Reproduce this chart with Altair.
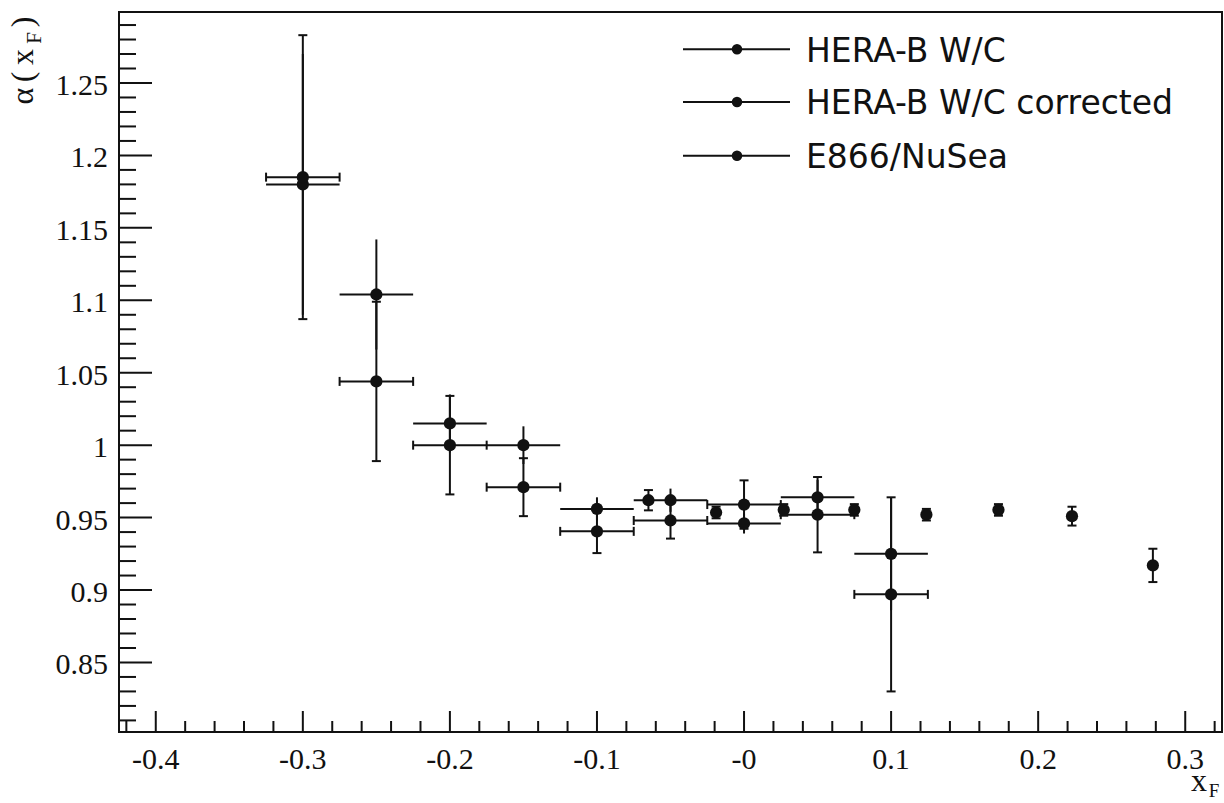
import altair as alt
import pandas as pd

# ---------------- data ----------------
hera_x = [-0.30, -0.25, -0.20, -0.15, -0.10, -0.05, 0.00, 0.05, 0.10]
hera_xerr = [0.025, 0.025, 0.025, 0.025, 0.025, 0.025, 0.025, 0.025, 0.025]

hera_y = [1.180, 1.104, 1.015, 1.000, 0.956, 0.962, 0.946, 0.964, 0.925]
hera_err = [0.090, 0.038, 0.020, 0.013, 0.008, 0.008, 0.007, 0.012, 0.039]

corr_y = [1.185, 1.044, 1.000, 0.971, 0.9405, 0.948, 0.959, 0.952, 0.897]
corr_err = [0.098, 0.055, 0.034, 0.020, 0.015, 0.0125, 0.0167, 0.026, 0.067]

e866_x = [-0.065, -0.019, 0.027, 0.075, 0.124, 0.173, 0.223, 0.278]
e866_y = [0.962, 0.9535, 0.9553, 0.9553, 0.952, 0.9553, 0.951, 0.917]
e866_err = [0.007, 0.004, 0.004, 0.004, 0.004, 0.004, 0.0065, 0.0115]

series_names = ["HERA-B W/C", "HERA-B W/C corrected", "E866/NuSea"]

x_major = [-0.4, -0.3, -0.2, -0.1, 0.0, 0.1, 0.2, 0.3]
x_labels = ["-0.4", "-0.3", "-0.2", "-0.1", "-0", "0.1", "0.2", "0.3"]
y_major = [0.85, 0.90, 0.95, 1.00, 1.05, 1.10, 1.15, 1.20, 1.25]
y_labels = ["0.85", "0.9", "0.95", "1", "1.05", "1.1", "1.15", "1.2", "1.25"]
x_minor = [round(-0.42 + 0.02 * i, 2) for i in range(38)]
x_minor = [v for v in x_minor if abs(round(v * 10) - v * 10) > 1e-6]
y_minor = [round(0.81 + 0.01 * i, 2) for i in range(49)]
y_minor = [v for v in y_minor if abs(round(v * 20) - v * 20) > 1e-6]

# ---------------- layout ----------------
W, H = 1103, 720
INK = "#111111"
SERIF = "Liberation Serif"
SANS = "DejaVu Sans"

xs = alt.Scale(domain=[-0.425, 0.325], nice=False, zero=False)
ys = alt.Scale(domain=[0.802, 1.299], nice=False, zero=False)

# ---------------- tables ----------------
rows = []
for x, y, e, xe in zip(hera_x, hera_y, hera_err, hera_xerr):
    rows.append(dict(series=series_names[0], x=x, y=y, lo=y - e, hi=y + e, xlo=x - xe, xhi=x + xe))
for x, y, e, xe in zip(hera_x, corr_y, corr_err, hera_xerr):
    rows.append(dict(series=series_names[1], x=x, y=y, lo=y - e, hi=y + e, xlo=x - xe, xhi=x + xe))
for x, y, e in zip(e866_x, e866_y, e866_err):
    rows.append(dict(series=series_names[2], x=x, y=y, lo=y - e, hi=y + e, xlo=x, xhi=x))
df = pd.DataFrame(rows)
hera_df = df[df.series != series_names[2]]
corr_df = df[df.series == series_names[1]]
capped = df[df.series != series_names[0]]

vcaps = pd.concat([
    capped[["x", "lo"]].rename(columns={"lo": "yc"}),
    capped[["x", "hi"]].rename(columns={"hi": "yc"}),
])
hcaps = pd.concat([
    corr_df[["y", "xlo"]].rename(columns={"xlo": "xc"}),
    corr_df[["y", "xhi"]].rename(columns={"xhi": "xc"}),
])

X = lambda f: alt.X(f, scale=xs, axis=None)
Y = lambda f: alt.Y(f, scale=ys, axis=None)

# ---------------- layers ----------------
points = alt.Chart(df).mark_point(filled=True, shape="circle", size=150, color=INK, opacity=1).encode(
    x=X("x:Q"), y=Y("y:Q"))

verr = alt.Chart(df).mark_rule(strokeWidth=2, color=INK).encode(
    x=X("x:Q"), y=Y("lo:Q"), y2="hi:Q")
herr = alt.Chart(hera_df).mark_rule(strokeWidth=2, color=INK).encode(
    x=X("xlo:Q"), x2="xhi:Q", y=Y("y:Q"))
vcap = alt.Chart(vcaps).mark_tick(orient="horizontal", size=9, thickness=2, color=INK, opacity=1).encode(
    x=X("x:Q"), y=Y("yc:Q"))
hcap = alt.Chart(hcaps).mark_tick(orient="vertical", size=9, thickness=2, color=INK, opacity=1).encode(
    x=X("xc:Q"), y=Y("y:Q"))

# axis ticks drawn inside the frame (ROOT style)
xmaj_t = alt.Chart(pd.DataFrame({"v": x_major})).mark_rule(strokeWidth=2, color=INK).encode(
    x=X("v:Q"), y=alt.value(H), y2=alt.value(H - 21))
xmin_t = alt.Chart(pd.DataFrame({"v": x_minor})).mark_rule(strokeWidth=2, color=INK).encode(
    x=X("v:Q"), y=alt.value(H), y2=alt.value(H - 11))
ymaj_t = alt.Chart(pd.DataFrame({"v": y_major})).mark_rule(strokeWidth=2, color=INK).encode(
    y=Y("v:Q"), x=alt.value(0), x2=alt.value(33))
ymin_t = alt.Chart(pd.DataFrame({"v": y_minor})).mark_rule(strokeWidth=2, color=INK).encode(
    y=Y("v:Q"), x=alt.value(0), x2=alt.value(17))

# tick labels
xlab = alt.Chart(pd.DataFrame({"v": x_major, "t": x_labels})).mark_text(
    font=SERIF, fontSize=30, color=INK, align="center", baseline="alphabetic").encode(
    x=X("v:Q"), y=alt.value(H + 37), text="t:N")
ylab = alt.Chart(pd.DataFrame({"v": y_major, "t": y_labels})).mark_text(
    font=SERIF, fontSize=30, color=INK, align="right", baseline="alphabetic", dy=12).encode(
    y=Y("v:Q"), x=alt.value(-11), text="t:N")

one = pd.DataFrame({"a": [0]})

# legend
legend_layers = []
leg_rows = [37.3, 90.0, 143.7]
for name, ry in zip(series_names, leg_rows):
    legend_layers.append(alt.Chart(one).mark_rule(strokeWidth=2, color=INK).encode(
        x=alt.value(564), x2=alt.value(671), y=alt.value(ry)))
    legend_layers.append(alt.Chart(one).mark_point(filled=True, shape="circle", size=110, color=INK, opacity=1).encode(
        x=alt.value(618), y=alt.value(ry)))
    legend_layers.append(alt.Chart(one).mark_text(
        text=name, font=SANS, fontSize=33, color=INK, align="left", baseline="alphabetic").encode(
        x=alt.value(687), y=alt.value(ry + 12.4)))

# axis titles
def txt(s, x, y, size, angle=0, align="center", baseline="alphabetic"):
    kw = dict(text=s, font=SERIF, fontSize=size, color=INK, align=align, baseline=baseline)
    if angle:
        kw["angle"] = angle
    return alt.Chart(one).mark_text(**kw).encode(x=alt.value(x), y=alt.value(y))

titles = [
    txt("α", -86, 84, 32, angle=270),
    txt("(", -86, 65, 32, angle=270),
    txt("x", -86, 45, 32, angle=270),
    txt("F", -78, 26, 21, angle=270),
    txt(")", -86, 10, 32, angle=270),
    txt("x", 1080, 779, 32),
    txt("F", 1095, 785, 19),
]

chart = alt.layer(
    xmaj_t, xmin_t, ymaj_t, ymin_t,
    verr, herr, vcap, hcap, points,
    xlab, ylab,
    *legend_layers, *titles,
).properties(
    width=W, height=H,
    autosize=alt.AutoSizeParams(type="none"),
    padding={"left": 119, "top": 12, "right": 2, "bottom": 71},
    background="white",
).configure_view(stroke=INK, strokeWidth=2)

chart.save("out.html", embed_options={"renderer": "svg", "actions": False})
